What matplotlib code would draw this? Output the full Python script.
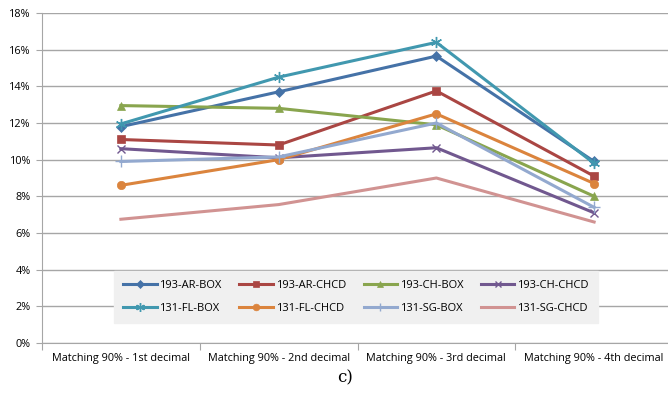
import matplotlib.pyplot as plt
import numpy as np

plt.rcParams["font.family"] = ["Open Sans", "DejaVu Sans"]

categories = ["Matching 90% - 1st decimal", "Matching 90% - 2nd decimal",
              "Matching 90% - 3rd decimal", "Matching 90% - 4th decimal"]

ar_box = [11.8, 13.7, 15.65, 9.9]
ar_chcd = [11.1, 10.8, 13.75, 9.1]
ch_box = [12.95, 12.8, 11.9, 8.0]
ch_chcd = [10.6, 10.1, 10.65, 7.1]
fl_box = [11.95, 14.5, 16.4, 9.8]
fl_chcd = [8.6, 10.0, 12.5, 8.7]
sg_box = [9.9, 10.15, 12.0, 7.4]
sg_chcd = [6.75, 7.55, 9.0, 6.6]

series = [
    ("193-AR-BOX", ar_box, "#4572A7", "D", 5),
    ("193-AR-CHCD", ar_chcd, "#AA4643", "s", 6),
    ("193-CH-BOX", ch_box, "#89A54E", "^", 6),
    ("193-CH-CHCD", ch_chcd, "#71588F", "x", 6),
    ("131-FL-BOX", fl_box, "#4198AF", (6, 2, 0), 8),
    ("131-FL-CHCD", fl_chcd, "#DB843D", "o", 6),
    ("131-SG-BOX", sg_box, "#93A9CF", "+", 8),
    ("131-SG-CHCD", sg_chcd, "#D19392", None, 0),
]

fig = plt.figure(figsize=(6.68, 3.97), dpi=100)
ax = fig.add_axes([42 / 668, 54 / 397, (673 - 42) / 668, 330 / 397])

x = np.arange(len(categories))
lines = {}
for name, vals, col, mk, ms in series:
    ln, = ax.plot(x, vals, color=col, lw=2.2, marker=mk, markersize=ms,
                  markeredgewidth=1.0 if mk in ("x", "+", (6, 2, 0)) else 0.5,
                  markeredgecolor=col, label=name, clip_on=False, zorder=3)
    lines[name] = ln

ax.set_xlim(-0.5, 3.5)
ax.set_ylim(0, 18)
ax.set_yticks(np.arange(0, 19, 2))
ax.set_yticklabels([f"{v}%" for v in range(0, 19, 2)])
ax.yaxis.grid(True, color="#a6a6a6", lw=1)
ax.set_axisbelow(True)

# category boundaries carry the tick marks, labels sit in the middle
ax.set_xticks([-0.5, 0.5, 1.5, 2.5, 3.5])
ax.set_xticklabels([])
ax.set_xticks(x, minor=True)
ax.set_xticklabels(categories, minor=True)
ax.tick_params(axis="x", which="minor", length=0, pad=7, labelsize=7.8)
ax.tick_params(axis="x", which="major", length=5, color="#a6a6a6")
ax.tick_params(axis="y", length=4, color="#a6a6a6", labelsize=7.8, pad=4)

for s in ["top", "right"]:
    ax.spines[s].set_visible(False)
for s in ["left", "bottom"]:
    ax.spines[s].set_color("#a6a6a6")

# legend fills column-wise, so reorder to read row by row
order = ["193-AR-BOX", "131-FL-BOX", "193-AR-CHCD", "131-FL-CHCD",
         "193-CH-BOX", "131-SG-BOX", "193-CH-CHCD", "131-SG-CHCD"]
leg = ax.legend([lines[n] for n in order], order, ncol=4,
                loc="center", bbox_to_anchor=((356 - 42) / 631, (343 - 297) / 330),
                frameon=True, fancybox=False, facecolor="#f0f0f0", edgecolor="#f0f0f0",
                fontsize=8, handlelength=3.0, columnspacing=1.6, labelspacing=1.1,
                borderpad=0.8, handletextpad=0.25, markerscale=0.8)
leg.get_frame().set_alpha(1)

fig.text(345 / 668, 1 - 378 / 397, "c)", ha="center", va="center",
         family="DejaVu Serif", fontsize=12)

fig.savefig("out.png", dpi=100)
